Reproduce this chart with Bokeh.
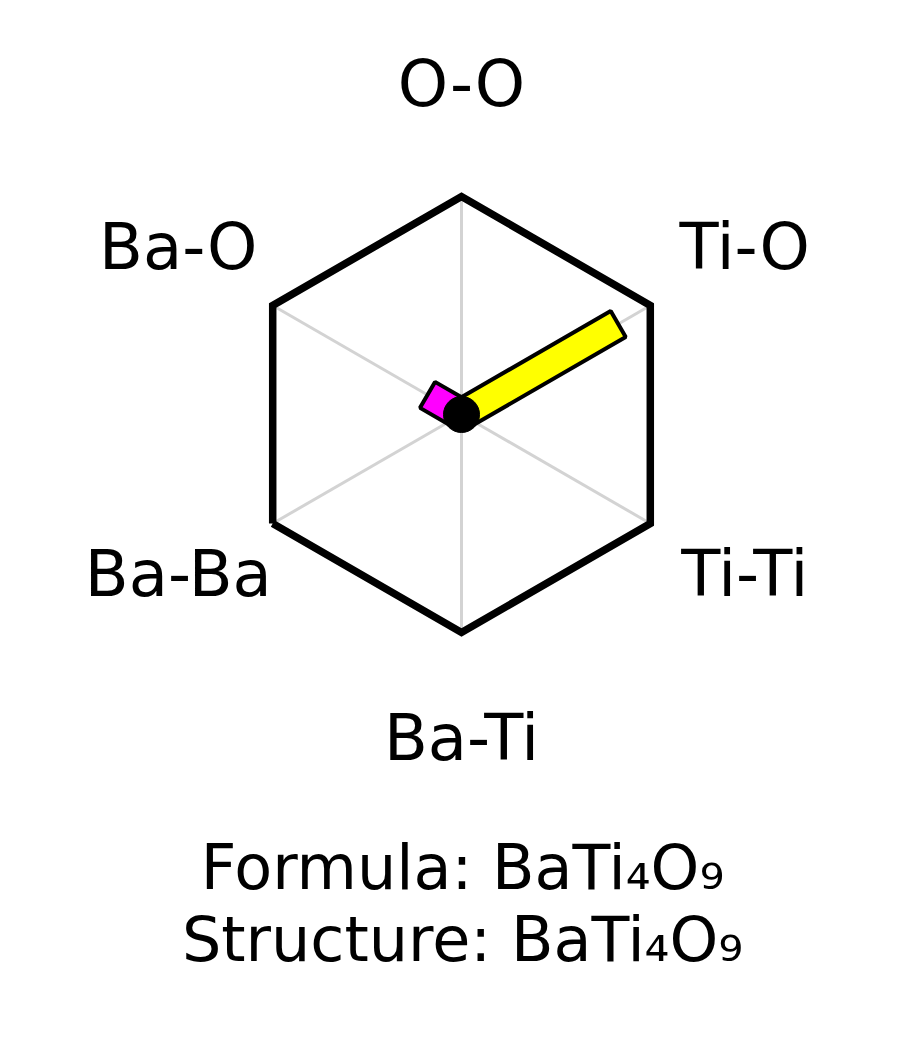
import math
from bokeh.plotting import figure
from bokeh.models import Range1d, ColumnDataSource
from bokeh.core.properties import value
from bokeh.embed import file_html
from bokeh.resources import INLINE

# ---- data ----
categories = ["O-O", "Ti-O", "Ti-Ti", "Ba-Ti", "Ba-Ba", "Ba-O"]
values = [0.0, 0.83, 0.0, 0.0, 0.0, 0.18]
bar_colors = ["#00ffff", "#ffff00", "#0000ff", "#00ff00", "#ff0000", "#ff00ff"]
formula_lines = ["Formula: BaTi₄O₉", "Structure: BaTi₄O₉"]

# ---- layout ----
W, H = 884, 1034
SCALE = 218.0          # px per unit radius
CX, CY = 461.0, 414.0  # centre in figure px (from top-left)
LABEL_R = 1.5
FONT = "DejaVu Sans"

p = figure(width=W, height=H, output_backend="svg", toolbar_location=None,
           x_range=Range1d(-CX / SCALE, (W - CX) / SCALE),
           y_range=Range1d(-(H - CY) / SCALE, CY / SCALE),
           min_border=0)
p.axis.visible = False
p.grid.visible = False
p.outline_line_color = None
p.background_fill_color = "white"
p.border_fill_color = "white"

n = len(categories)
angles = [math.radians(90 - 360.0 / n * i) for i in range(n)]
vx = [math.cos(a) for a in angles]
vy = [math.sin(a) for a in angles]

# spokes
p.multi_line(xs=[[0, x] for x in vx], ys=[[0, y] for y in vy],
             line_color="#d3d3d3", line_width=3)

# hexagon frame (open path starting and ending at the Ba-Ba vertex)
order = [4, 3, 2, 1, 0, 5, 4]
p.line(x=[vx[i] for i in order], y=[vy[i] for i in order], line_color="black",
       line_width=7.5, line_join="miter", line_cap="butt")

# bars
bx, by, bw, ba, bc = [], [], [], [], []
for v, a, c in zip(values, angles, bar_colors):
    if v > 0:
        bx.append(v / 2 * math.cos(a))
        by.append(v / 2 * math.sin(a))
        bw.append(v)
        ba.append(a)
        bc.append(c)
src = ColumnDataSource(dict(x=bx, y=by, w=bw, a=ba, c=bc))
p.rect(x="x", y="y", width="w", height=30, height_units="screen", angle="a",
       source=src, fill_color="c", line_color="black", line_width=4)

# centre dot
p.scatter(x=[0], y=[0], size=36, marker="circle", fill_color="black",
          line_color="black")

# axis labels
p.text(x=[LABEL_R * x for x in vx], y=[LABEL_R * y + 4 / SCALE for y in vy],
       text=categories, text_font=value(FONT), text_font_size="64px",
       text_align="center", text_baseline="middle", text_color="black")

# formula text
base_px = [867, 939]
p.text(x=[(462 - CX) / SCALE] * 2,
       y=[(CY - b) / SCALE for b in base_px],
       text=formula_lines, text_font=value(FONT), text_font_size="62px",
       text_align="center", text_baseline="alphabetic", text_color="black")

open("out.html", "w").write(file_html(p, INLINE))
